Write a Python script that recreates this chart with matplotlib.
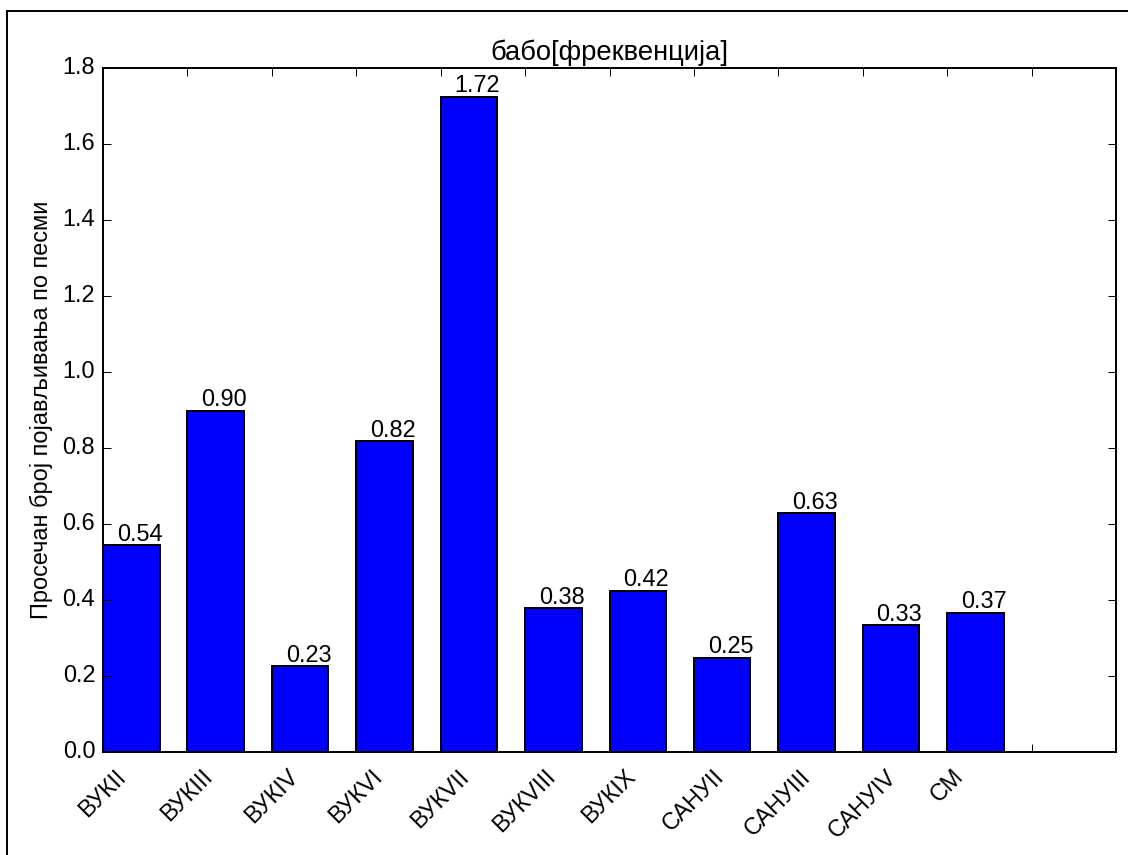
import numpy as np
import matplotlib
matplotlib.use('Agg')
import matplotlib.pyplot as plt
from matplotlib.lines import Line2D

# podaci sa grafika
kategorije = ['ВУКII', 'ВУКIII', 'ВУКIV', 'ВУКVI', 'ВУКVII', 'ВУКVIII',
              'ВУКIX', 'САНУII', 'САНУIII', 'САНУIV', 'СМ']
vrednosti = [0.544, 0.898, 0.226, 0.818, 1.724, 0.378, 0.425, 0.248, 0.628, 0.333, 0.367]

plt.style.use('classic')
plt.rcParams['font.family'] = ['Liberation Sans', 'DejaVu Sans']
plt.rcParams['font.size'] = 12
plt.rcParams['figure.facecolor'] = 'white'
plt.rcParams['savefig.facecolor'] = 'white'

fig = plt.figure(figsize=(8, 855 / 141), dpi=141)
ax = fig.add_axes([103 / 1128, 1 - 752 / 855, (1116 - 103) / 1128, (752 - 68) / 855])

sirina = 0.67
x = np.arange(len(kategorije))
bars = ax.bar(x, vrednosti, sirina, align='edge', color='b', edgecolor='k', linewidth=1)

for b in bars:
    h = b.get_height()
    ax.text(b.get_x() + b.get_width() / 2 + 0.1, h + 0.012, '%.2f' % h,
            ha='center', va='baseline', fontsize=12)

ax.set_xlim(0, 12)
ax.set_ylim(0, 1.8)
ax.set_xticks(np.arange(13))
ax.set_xticklabels(kategorije + ['', ''], rotation=45)
ax.tick_params(axis='x', which='major', pad=7)
ax.set_yticks(np.arange(0, 1.81, 0.2))
ax.set_title('бабо[фреквенција]', fontsize=14, pad=4)
ax.set_ylabel('Просечан број појављивања по песми', fontsize=12)

# okvir slike (samo gore i levo)
fig.add_artist(Line2D([7 / 1128, 7 / 1128], [0, 1 - 11 / 855], transform=fig.transFigure, color='k', lw=1))
fig.add_artist(Line2D([7 / 1128, 1], [1 - 11 / 855, 1 - 11 / 855], transform=fig.transFigure, color='k', lw=1))

fig.savefig('out.png', dpi=141)
